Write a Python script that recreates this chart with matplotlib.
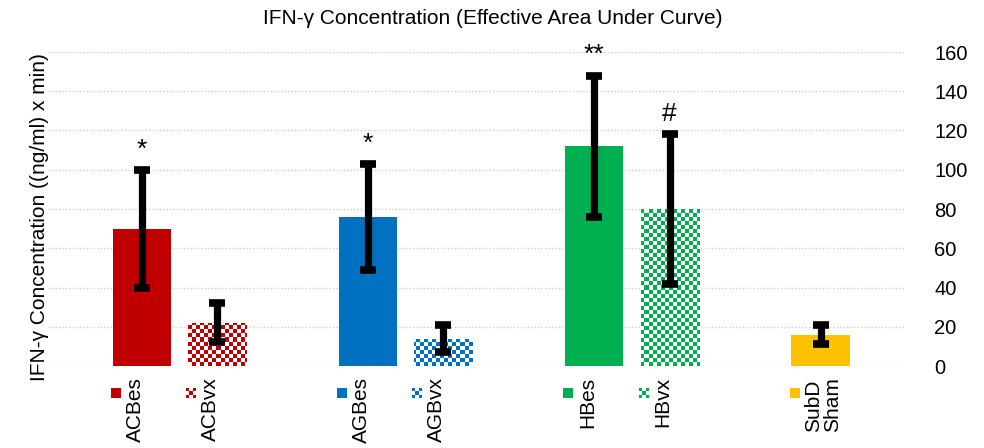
import numpy as np
import matplotlib
matplotlib.use("Agg")
import matplotlib.pyplot as plt
from matplotlib.offsetbox import OffsetImage, AnnotationBbox
from matplotlib.colors import to_rgb

plt.rcParams['font.family'] = ['Liberation Sans', 'DejaVu Sans']

# ---- data ----
labels = ["ACBes", "ACBvx", "AGBes", "AGBvx", "HBes", "HBvx", "SubD\nSham"]
values = [70, 22, 76, 14, 112, 80, 16]
errors = [30, 10, 27, 7, 36, 38, 5]
positions = [0, 1, 3, 4, 6, 7, 9]
colors = ["#C00000", "#C00000", "#0070C0", "#0070C0", "#00B050", "#00B050", "#FFC000"]
checkered = [False, True, False, True, False, True, False]
marks = ["*", "", "*", "", "**", "#", ""]
yticks = [0, 20, 40, 60, 80, 100, 120, 140, 160]

W, H, DPI = 9.84, 4.48, 100
fig = plt.figure(figsize=(W, H), dpi=DPI)
ax = fig.add_axes([48 / 984, 82 / 448, (905 - 48) / 984, (366 - 52) / 448])

xlim = (-1.24, 10.12)
ax.set_xlim(*xlim)
ax.set_ylim(0, 160)

# gridlines
ax.set_yticks(yticks)
ax.yaxis.grid(True, color="#CCCCCC", linestyle=(0, (1, 1.5)), linewidth=1.0)
ax.set_axisbelow(True)
ax.yaxis.tick_right()
ax.tick_params(axis='y', length=0, labelsize=14.5, pad=21)
ax.tick_params(axis='x', length=0, labelbottom=False)
for s in ax.spines.values():
    s.set_visible(False)

bw = 0.77
bars = ax.bar(positions, values, width=bw,
              color=[("white" if c else col) for c, col in zip(checkered, colors)],
              zorder=2, linewidth=0)

# checker fill for "vx" bars
axw_px = (905 - 48)
axh_px = (366 - 52)
cell = 4
nx = axw_px // cell
ny = axh_px // cell
ii, jj = np.meshgrid(np.arange(nx), np.arange(ny))
chk = ((ii + jj) % 2 == 0)
for b, c, col in zip(bars, checkered, colors):
    if not c:
        continue
    rgb = np.array(to_rgb(col))
    img = np.ones((ny, nx, 3))
    img[chk] = rgb
    im = ax.imshow(img, extent=(xlim[0], xlim[0] + nx * cell * (xlim[1] - xlim[0]) / axw_px,
                                0, ny * cell * 160 / axh_px),
                   aspect='auto', interpolation='nearest', zorder=2.5, origin='lower')
    im.set_clip_path(b)
ax.set_xlim(*xlim)
ax.set_ylim(0, 160)

# error bars
ax.errorbar(positions, values, yerr=errors, fmt='none', ecolor='black',
            elinewidth=5.2, capsize=6, capthick=5.5, zorder=3)

# significance marks
for p, v, e, m in zip(positions, values, errors, marks):
    if m:
        ax.annotate(m, xy=(p, v + e), xytext=(0, 6), textcoords='offset points',
                    ha='center', va='bottom', fontsize=19)

# category labels with legend-like keys
for p, lab, col, c in zip(positions, labels, colors, checkered):
    n = 9
    key = np.ones((n, n, 3))
    if c:
        a, b = np.meshgrid(np.arange(n) // 3, np.arange(n) // 3)
        key[((a + b) % 2 == 0)] = to_rgb(col)
    else:
        key[:, :] = to_rgb(col)
    oi = OffsetImage(key, zoom=0.72 * 10 / 9, interpolation='nearest')
    ab = AnnotationBbox(oi, (p, 0), xycoords=('data', 'axes fraction'),
                        xybox=(-26 * 0.72, -27 * 0.72), boxcoords='offset points',
                        frameon=False, pad=0, annotation_clip=False)
    ax.add_artist(ab)
    ax.annotate(lab, xy=(p, 0), xycoords=('data', 'axes fraction'),
                xytext=(-16 * 0.72, -11 * 0.72), textcoords='offset points',
                rotation=90, ha='left', va='top', fontsize=15, linespacing=0.95,
                annotation_clip=False)

fig.text(493 / 984, 1 - 18 / 448, "IFN-γ Concentration (Effective Area Under Curve)",
         ha='center', va='center', fontsize=15)
fig.text(40 / 984, 1 - 217 / 448, "IFN-γ Concentration ((ng/ml) x min)",
         ha='center', va='center', rotation=90, fontsize=15)

fig.savefig("out.png", dpi=DPI)
